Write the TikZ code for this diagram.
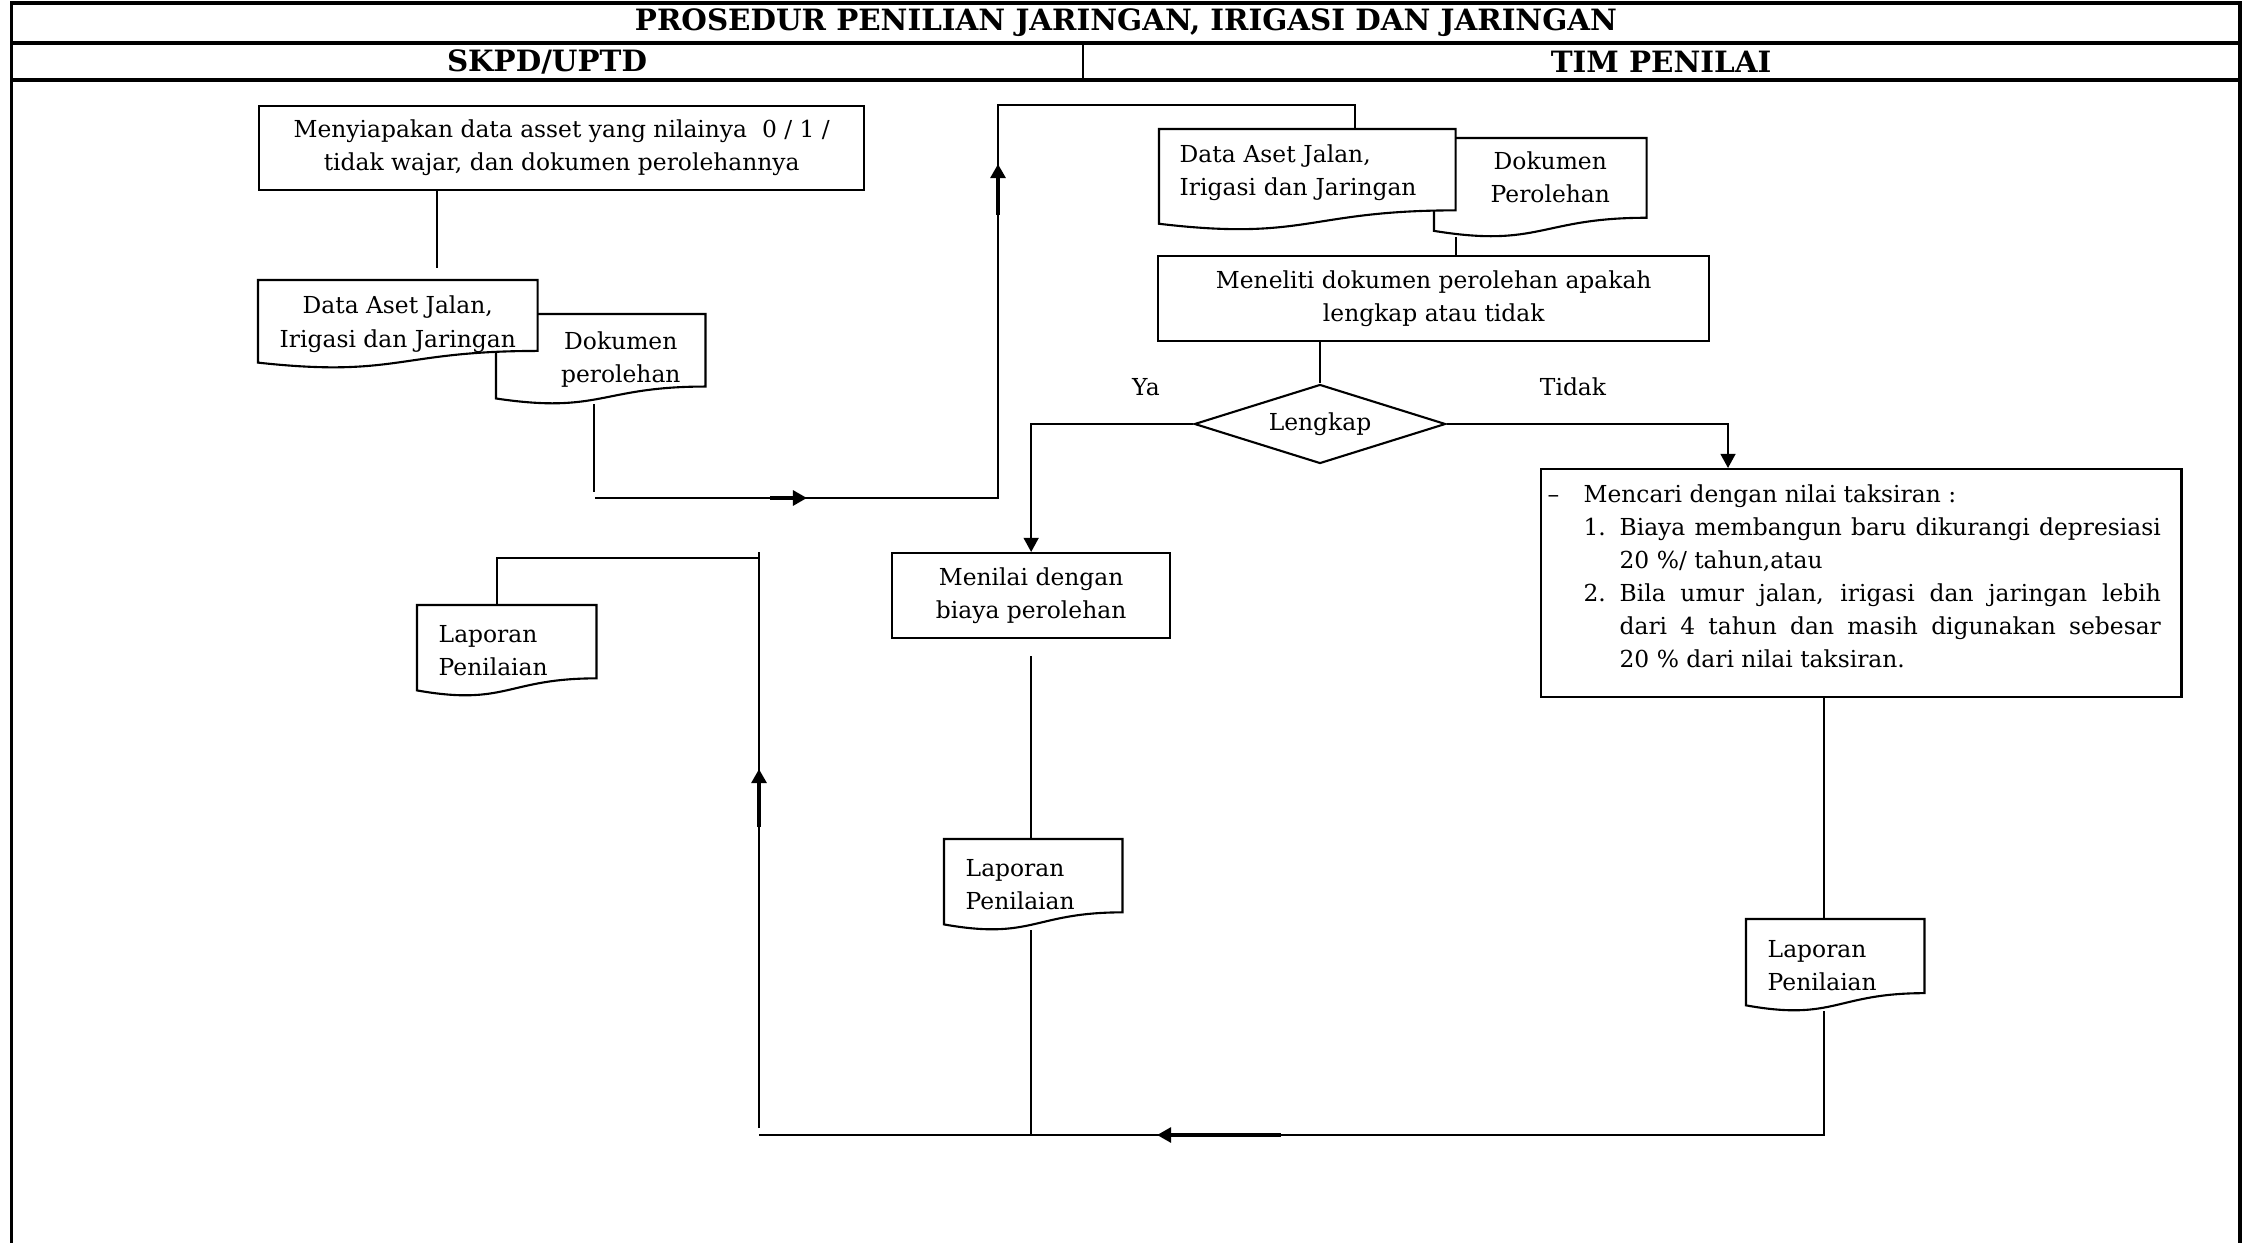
\documentclass[tikz,border=0pt]{standalone}
\usepackage{fontspec}
\setmainfont{DejaVu Serif}
\usetikzlibrary{calc, positioning, arrows.meta, shapes.geometric, backgrounds}

\newcommand{\bodysize}{\fontsize{6.65pt}{9.4pt}\selectfont}
\newcommand{\headsize}{\fontsize{8.35pt}{9.6pt}\selectfont\bfseries}
\newcommand{\docoutline}[1]{%
  \begin{scope}[on background layer]
    \draw[docline] (#1.north west) -- (#1.north east)
      -- ($(#1.north east)!0.802!(#1.south east)$)
      .. controls ($(#1.north)!0.802!(#1.south)$) and ($(#1.north)!1.1075!(#1.south)$)
      .. ($(#1.north west)!0.934!(#1.south west)$) -- cycle;
  \end{scope}}

\begin{document}
\begin{tikzpicture}[
    x=0.01cm, y=-0.01cm,
    every node/.style={font=\bodysize, inner sep=0pt},
    headtext/.style={font=\headsize},
    procbox/.style={draw, rectangle, line width=0.6pt, align=center, anchor=north west},
    docnode/.style={rectangle, anchor=north west},
    decision/.style={draw, diamond, aspect=3.18, line width=0.6pt},
    docline/.style={draw, line width=0.6pt, fill=white},
    line/.style={line width=0.6pt},
    arrow/.style={line width=0.6pt, -{Triangle[length=4pt,width=4.2pt]}},
    midarrow/.style={line width=1.1pt, -{Triangle[length=4pt,width=4.2pt]}},
    framerule/.style={line width=1pt}
]
\useasboundingbox (0,0) rectangle (2249,1243);

\draw[framerule] (11.5,1260) -- (11.5,3) -- (2240,3) -- (2240,1260);
\draw[framerule] (11.5,43) -- (2240,43);
\draw[framerule] (11.5,80) -- (2240,80);
\draw[line] (1083,43) -- (1083,80);

\node[headtext] (title) at (1126,23) {PROSEDUR PENILIAN JARINGAN, IRIGASI DAN JARINGAN};
\node[headtext] (skpd) at (547,62) {SKPD/UPTD};
\node[headtext] (tim) at (1661,62) {TIM PENILAI};

\node[procbox, minimum width=6.05cm, minimum height=0.84cm] (prep) at (258,105) {Menyiapakan data asset yang nilainya~~0 / 1 /\\tidak wajar, dan dokumen perolehannya};
\node[docnode, minimum width=2.78cm, minimum height=0.87cm, align=center] (assetL) at (258,280) {Data Aset Jalan,\\Irigasi dan Jaringan};
\node[docnode, minimum width=2.08cm, minimum height=0.89cm, align=center] (docsL) at (496,314) {\hspace*{0.4cm}Dokumen\\\hspace*{0.4cm}perolehan};
\node[docnode, minimum width=2.95cm, minimum height=1.0cm, text width=2.55cm, inner xsep=0.2cm, align=left] (assetR) at (1159,129) {Data Aset Jalan,\\Irigasi dan Jaringan\rule[-0.2cm]{0pt}{0.2cm}};
\node[docnode, minimum width=2.11cm, minimum height=0.98cm, align=center] (docsR) at (1434,138) {\hspace*{0.2cm}Dokumen\\\hspace*{0.2cm}Perolehan\rule[-0.22cm]{0pt}{0.22cm}};
\node[procbox, minimum width=5.51cm, minimum height=0.85cm] (check) at (1157,255) {Meneliti dokumen perolehan apakah\\lengkap atau tidak};
\node[decision, minimum width=2.51cm, minimum height=0.79cm] (lengkap) at (1320,424) {Lengkap};
\node (ya) at (1146,387) {Ya};
\node (tidak) at (1573,387) {Tidak};
\node[procbox, minimum width=2.78cm, minimum height=0.85cm] (bycost) at (891,552) {Menilai dengan\\biaya perolehan};
\node[procbox, minimum width=6.40cm, minimum height=2.28cm, text width=6.27cm, inner xsep=0.065cm, align=justify] (estimate) at (1540,468) {%
  \parindent=0pt\rightskip=0.14cm
  \makebox[0.36cm][l]{–}Mencari dengan nilai taksiran :\par
  \hangindent=0.72cm\hangafter=1\hspace*{0.36cm}\makebox[0.36cm][l]{1.}Biaya membangun baru dikurangi depresiasi\linebreak 20~\%/ tahun,atau\par
  \hangindent=0.72cm\hangafter=1\hspace*{0.36cm}\makebox[0.36cm][l]{2.}Bila umur jalan, irigasi dan jaringan lebih\linebreak dari 4 tahun dan masih digunakan sebesar\linebreak 20~\% dari nilai taksiran.\rule[-0.14cm]{0pt}{0.14cm}\par};
\node[docnode, minimum width=1.78cm, minimum height=0.90cm, text width=1.36cm, inner xsep=0.21cm, align=left] (reportL) at (417,605) {Laporan\\Penilaian};
\node[docnode, minimum width=1.77cm, minimum height=0.90cm, text width=1.35cm, inner xsep=0.21cm, align=left] (reportM) at (944,839) {Laporan\\Penilaian};
\node[docnode, minimum width=1.77cm, minimum height=0.91cm, text width=1.35cm, inner xsep=0.21cm, align=left] (reportR) at (1746,919) {Laporan\\Penilaian};

\docoutline{docsL}
\docoutline{assetL}
\docoutline{docsR}
\docoutline{assetR}
\docoutline{reportL}
\docoutline{reportM}
\docoutline{reportR}

\coordinate (prepdrop) at (437,268);
\coordinate (sendturn) at (594,492);
\coordinate (sendL) at (595,498);
\coordinate (sendR) at (998,498);
\coordinate (sendtop) at (998,105);
\coordinate (sendin) at (1355,105);
\coordinate (tidakin) at (1728,468);
\coordinate (backR) at (1824,1135);
\coordinate (backL) at (759,1135);
\coordinate (backup) at (759,1128);
\coordinate (backtop) at (759,552);
\coordinate (backturn) at (759,558);
\coordinate (toreport) at (497,558);
\coordinate (arr1a) at (770,498);
\coordinate (arr1b) at (807,498);
\coordinate (arr2a) at (998,215);
\coordinate (arr2b) at (998,164);
\coordinate (arr3a) at (759,827);
\coordinate (arr3b) at (759,769);
\coordinate (arr4a) at (1281,1135);
\coordinate (arr4b) at (1157,1135);

\draw[line] (prep.south -| prepdrop) -- (prepdrop);
\draw[line] (docsL.south -| sendturn) -- (sendturn);
\draw[line] (sendL) -- (sendR) -- (sendtop) -- (sendin) -- (sendin |- assetR.north);
\draw[line] (docsR.south -| assetR.east) -- (check.north -| assetR.east);
\draw[line] (check.south -| lengkap.north) -- (lengkap.north);
\draw[arrow] (lengkap.west) -| (bycost.north);
\draw[arrow] (lengkap.east) -| (tidakin);
\draw[line] ([yshift=-0.17cm]bycost.south) -- (reportM.north -| bycost.south);
\draw[line] (reportM.south -| bycost.south) -- (bycost.south |- backL);
\draw[line] (estimate.south -| backR) -- (reportR.north -| backR);
\draw[line] (reportR.south -| backR) -- (backR) -- (backL);
\draw[line] (backup) -- (backtop);
\draw[line] (backturn) -- (toreport) -- (toreport |- reportL.north);

\draw[midarrow] (arr1a) -- (arr1b);
\draw[midarrow] (arr2a) -- (arr2b);
\draw[midarrow] (arr3a) -- (arr3b);
\draw[midarrow] (arr4a) -- (arr4b);

\end{tikzpicture}
\end{document}
